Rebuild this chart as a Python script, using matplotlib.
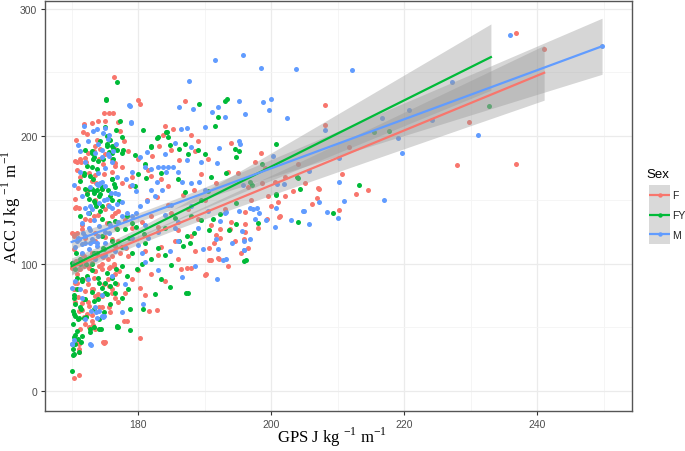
import numpy as np
import matplotlib
matplotlib.use("Agg")
import matplotlib.pyplot as plt

# ---------------- data ----------------
f_pts = [
    (236.8,281),(241,268),(227.9,177.7),(236.8,178.5),(229.7,211),(208,224.5),(208.1,208.5),(211.7,191.5),
    (210.7,170.5),(207.1,158.5),(212.7,155),(214.6,157.5),(203.2,157),(207,159.5),(206.9,151.7),(206.1,146.4),
    (210.2,141.7),(201.2,136.4),(202,153),(201.3,137.3),(199.3,134.7),(196,140.4),(196.1,124.8),(195.9,119),
    (193.8,126.9),(192.3,127.4),(190.9,130.3),(191.7,122.2),(192.3,120.3),(191.4,115.9),(190.7,112.5),(192,104.7),
    (190.7,102.6),(190.2,91.6),(192.2,104),(190.9,102.7),(186.5,95.5),(187.3,96.9),(188,96.9),(180.3,41.5),
    (170.3,10.4),(171.1,13),(175,38.4),(177.8,55.3),(178.3,55.3),(181.7,62.5),(182.9,63.8),(190.1,90.8),
    (180.3,81.2),(176.3,246.4),(180,228.5),(180.3,225),(187.1,227.8),(184,208.3),(174.8,218),(175.6,218),
    (176.2,218),(171.8,209.6),(173.1,210),(170.6,196.6),(170.8,179.8),(171.4,180),(172.1,180),(177,211),
    (171.1,143.5),(174.7,178.5),(176.5,192.7),(182.1,184.7),(177.25,204.4),(171.65,203.3),(172.35,202),
    (174,212),(175,211.7),(173.5,192),(173.8,197),(172.5,186.9),(173.3,188),(174.3,190),(176,181.7),
    (176.5,176.5),(180,181.7),(181.5,173.8),(182,168.6),(183.5,166),(184.5,160.8),(179,168),(177.5,163),
    (178.7,160.8),(183.8,200.5),(185.3,205.7),(183.1,192),(185,189),(188,200.5),(189,196),(188.5,188),
    (186.2,181),(190.5,181.7),(191.7,163),(189.5,170),(194,195),(193.5,172),(195,170.7),(182.9,152),
    (181.3,150),(186.7,154),(188.4,158),(184.5,146),(190,150),(193,143),(187.5,143),(185,140),(182,137),
    (180.5,133),(179,128),(183,129),(186,126),(189,135),(188,122),(185.5,118),(183.5,113),(181,110),
    (178.5,106),(183,107),(186,104),(188.5,110),(180,95),(182,92),(179,88),(184,86),(176,80),(178,77),
    (181,75),(177,70),(174.5,66),(175.8,62),(173,60),(171.5,64),(172.4,70),(171,74),(170.4,80),(170.8,85),
    (171.6,88),(172.5,84),(173.2,80),(174,76),(174.8,84),(175.5,88),(176.5,92),(175.8,97),(174.5,100),
    (173.5,94),(172.5,98),(171.3,96),(170.6,102),(171.8,106),(173,108),(174.7,105),(175.5,103.4),
    (176.3,99.5),(177.3,108),(178.2,112),(176.5,114),(177,118),(175,121),(173.5,124),(172,120),(170.35,123),
    (170.85,124.2),(171.5,130),(172.8,134),(174,138),(175.3,132),(176.6,128),(178,134),(177,141),(175.5,146),
    (173.5,150),(172.3,156),(171,159),(170.6,144.5),(173.6,163),(174.9,170),(176,172),(177.5,176),(178.5,188),
    (177.8,196),(175.4,199),(171.3,168),(170.8,92),(170.5,70),(171.9,58),(172.6,50),(173.25,51.7),
    (171.15,37.3),(170.75,38.1),(171.15,30.8),(174.75,38.6),(195.5,108),(193.5,98),(196.5,112),(194.5,118),
    (198,128),(197,150),(199.5,153),(196.5,160),(200.6,164),(202,168),(205,163),(199,175),(204,178),
    (197.5,180),(198.5,187),(201,148),(196,131),(194,133),(200,145),(198.6,163.4),
    (170.05,96.9),(171.05,95.6),(171.8,98.2),(172.55,96.4),(173.55,94.3),(174.55,95.6),(175.55,96.9),
    (176.3,98.2),(177.05,94.3),(170.55,85.1),(172.3,87.8),(173.3,89.1),(175.55,82.5),(176.8,83.8),(170.3,79.9),
    (172.05,78.6),(173.05,79.9),(173.55,74.7),(174.55,74.7),(176.05,77.3),(176.55,73.4),(175.55,65.6),
    (174.05,65.6),(171.55,69.5),(172.55,66.9),(171.05,63),(172.3,60.3),(173.05,55.1),(172.05,52.5),
    (173.55,48.6),(171.3,48.6),(174.8,38.1),(171.05,32.9),(170.8,39.4),
    (170.55,180.4),(171.3,181.7),(172.05,183),(170.8,173.8),(172.55,171.2),(173.55,169.9),(173.05,164.7),
    (172.3,155.6),(174.55,158.2),(170.55,150.3),(175.05,185.6),(174.05,181.7),(176.55,179.1),(170.55,143.8),
    (172.05,134.7),(173.3,137.3),(175.05,142.5),(176.05,137.3),(176.55,139.9),(170.05,124.2),(170.3,121.6),
    (171.55,126.8),(176.05,119),(173.55,117.7),(170.3,111.2),(171.55,107.3),(171.05,100.7),(173.05,100.7),
    (174.05,98.1),(176.05,105.9),
]

fy_pts = [
    (170,15.9),(170.15,62.9),(170.5,59),(170.25,52.5),(170.5,43.9),(171,40.7),(170.15,32.9),(170.15,28.2),
    (176.85,50.4),(174.15,48.6),(176.75,242.3),(175.1,229.5),(180.75,205),(177.25,211.7),(232.75,224),
    (215.5,203),(217.65,204.4),(203.9,168.1),(204.25,158.2),(213.25,161.3),(209.25,139.9),(200.75,153.5),
    (204,132.9),(198,132.1),(196.25,102.6),(194.75,131.3),(192.25,138.6),(191.25,134.7),(184.75,82),
    (187.25,76.7),(187.75,116.4),(193.1,227.8),(193.4,229),(189.2,225),(192,214.8),(191.5,208.3),
    (184.5,199.2),(182.9,198.7),(187.1,194),(187.5,186.3),(181.9,191.4),(184.4,202.9),(186.1,190),(189,189),
    (190.1,186.3),(194.7,183.7),(194.6,190.1),(195.2,188),(193.2,171.2),(191,168),(198.6,178.5),(200.7,194),
    (196.8,164.2),(197.1,162),(200.7,155),(204,166.8),(194.7,147.3),(193.6,126.6),(190.7,126.6),(188.4,124),
    (189.4,134.4),(187.4,121.9),(186.1,118),(186.8,114),(195.9,102),(187.5,77.3),(178.7,64.3),(177,50),
    (172.7,46.2),(171.4,38.4),(175.2,228.5),(175,207),(174.2,196),(175.3,193.5),(176.2,191),(175.6,187),
    (173,187),(173.3,184),(171.3,165),(172.6,158.5),(173.3,157.2),(174.6,159.8),(172.6,151),(173.3,149.5),
    (173.6,145.5),(174.6,145.5),(171.3,137),(175.4,158),(176.5,160),(177.1,149),(176,150),(178.3,137),
    (179,131.8),(179.6,129),(178,127),(180.9,123.6),(178.6,120),(181,116),(183,112),(182,104),(180.5,100),
    (179.8,96),(184,107),(185,99),(183.5,88),(182.5,76),(184,128),(185.5,136),(188,137),(189.5,150),
    (190.5,157),(187,156),(186,166),(183.5,171),(181,178),(179.5,185),(177.5,199),(176.7,205),
    (170.5,68.2),(171.4,64.3),(171,56.5),(172.1,57.8),(172.7,48.8),(173.4,50),(174.4,48.8),(173.4,64.3),
    (174,72.1),(175,77.3),(175.7,82.5),(176.5,85.1),(174,89),(175.3,92.9),(176.7,96),(177.6,98),(178.3,90.3),
    (176.5,77.3),(170.3,75),(170.8,80),(171.5,86),(172.3,90),(173,95),(172.2,100),(171.3,104),(170.5,96),
    (171.8,72),(173,78),(174.8,62),(175.8,68),(177.5,73),(178.5,80),(179,108),(177.5,113),(176,118),
    (174.7,112),(173.3,108),(180.8,64.5),(178.8,48),(170.6,108),
    (175.25,200),(175.75,197.3),(175.25,192.1),(176,192.1),(175.65,187.7),(173.25,181.7),(174,180.4),
    (174.75,182.2),(176.25,181.7),(177.5,186.4),(177.75,189),(172.25,176.5),(173,175.7),(173.75,174.4),
    (171.85,171.2),(173.25,166),(173,158.2),(173.75,157.7),(174.5,158.2),(176,166),(175.75,153),
    (174.25,154.3),(172.25,154.3),(180,170),(181.25,167.3),(179.5,160.8),(182,192.6),(183,199.4),
    (184.25,203.1),(184.75,192.9),
    (171.3,99.5),(173.05,99.5),(170.8,89.1),(171.55,87.8),(174.05,85.1),(175.05,85.1),(176.05,89.1),
    (170.3,73.4),(171.3,65.6),(172.05,72.1),(173.3,70.8),(174.55,81.2),(175.3,76),(170.3,60.3),
    (171.05,57.7),(171.8,57.7),(170.8,47.3),(171.55,43.4),(170.3,42.1),(174.05,56.4),(176.8,51.2),
    (170.3,29),(170.55,36.8),(171.05,30.3),
    (172.05,189.5),(173.05,188.2),(176.05,186.9),(176.8,189.5),(171.8,169.9),(172.8,168.6),(176.05,166),
    (172.05,158.2),(173.3,155.6),(174.05,153),(176.3,162.1),(173.55,147.7),(174.3,141.2),(174.55,134.7),
    (172.55,139.9),(176.55,133.4),(175.55,132.1),(176.8,126.8),(174.55,121.6),(173.8,108.6),(174.8,111.2),
    (170.05,100.7),
]

m_pts = [
    (191.6,260),(195.7,263.5),(198.4,253.7),(203.7,252.4),(212.1,252.2),(235.9,279),(195.2,227.8),(198.8,227),
    (200,228.8),(199.6,220.8),(196.1,217.4),(191.1,219.2),(192,223),(202.4,214.3),(193,214.8),(216.6,214.3),
    (220.7,220.8),(224.1,213),(227.2,242.2),(231.1,200.7),(219,198.6),(219.6,186.9),(208,205.2),(200.2,184.7),
    (210.1,183),(205.6,172.5),(210.1,164.2),(210.9,149.1),(217,149.8),(208.3,140.4),(210,136),(204.8,141.4),
    (203,134.2),(205.7,131),(200.7,143.8),(200.8,162.2),(201.9,162.7),(200.5,128.9),(197.3,142.9),
    (197.6,134.9),(199.2,134.4),(195.2,141.4),(193.1,139.6),(195.7,161.3),(195.2,196),(195.3,194),(192.2,191),
    (191.8,179.2),(189.4,179.8),(187.4,181),(187.9,191.4),(195.9,117.5),(195.9,110.5),(192.7,102.5),
    (193.2,103.4),(191.9,88.2),(180.7,68),(187.6,243.3),(188.2,221.3),(186.2,223),(178.7,223.9),(178.9,210.6),
    (186.5,205.7),(187.3,206.2),(204.9,141.2),(207.1,148.3),(196.85,143.8),(197.85,143.8),(198.15,139.4),
    (195.65,125.6),(196.85,119),(195.85,110.4),(194.15,116.4),(193.15,140.4),(192.25,133.4),(191.75,119),
    (192,111.2),(189.75,111.2),(186.65,89.8),(184.75,110),(249.7,270.5),
    (170.1,37.3),(172.9,36.3),(174.65,58.5),(172.9,63),(173.6,62),(177.6,61.7),(170.3,40),(172,143.8),
    (172.75,145.1),(170.75,117.7),(172.75,116.4),(173.25,117.7),(173.75,116.4),(178.6,224.7),(178.9,211),
    (173.85,205.7),(174.65,202.6),(175.65,200.5),(171.8,208.3),(173.2,204.4),(175,206.2),(175.4,197.9),
    (174,194),(176.7,194),(174.5,183.7),(175,175),(174,171),(174.5,164.2),(172.7,160.3),(174,162),
    (175.9,155.1),(176.9,155),(172.4,139.6),(173.4,134.5),(172.7,126.6),(171.7,124),(171,120),(172,116),
    (173,119),(174,122),(175,124.5),(175.7,130),(177,133),(177.6,137.5),(178.3,140),(179,137.5),(179.6,140),
    (180.3,145),(181.3,149),(182.6,153),(183.6,158),(180.3,183.7),(181.3,187.5),(182,174.6),(183,176),
    (183.8,176),(184.5,176),(185.3,176),(182.9,164.2),(184.2,171.5),(186,172),(186.6,164.2),(187.9,163),
    (189.1,164.2),(190.1,158),(179,171.5),(178.2,166),(179,162),(179.6,157),(176.8,168),(176,180),(171,193),
    (172.5,196),(175.4,186),(176.2,188.5),(181,176),(182,158),(185,146),(184,138),(186,133),(188,145),
    (190.5,141),(183,125),(185.5,128),(181.5,120),(180,115),(178,113),(176.5,110),(175,107),(173.5,104),
    (171.5,108),(170.5,113),(172.5,88),(176,90),(178,84),(174.5,75),(171.2,80),(170.5,86),(183,95),(181,101),
    (188.5,98),(186,118),(189,128),(184,186),(185.5,195),(190,207),(171.2,172),(172,180),(170.4,162),
    (174.8,150),(176,144),(177.6,148),(181,130),(179,120),(180.5,108),
    (170.05,81.2),(171.55,73.4),(173.55,65.6),(174.05,63),(174.55,59),(173.8,57.7),(172.05,56.4),
    (174.8,59),(172.8,36.8),(170.05,36.8),
    (171.3,188.2),(173.55,186.9),(174.55,189.5),(175.55,184.3),(173.8,162.1),(174.3,163.4),(175.05,160.8),
    (171.55,153),(175.3,150.3),(176.55,155.6),(174.05,147.7),(175.55,145.1),(173.05,142.5),(176.8,146.4),
    (171.55,132.1),(172.55,128.1),(174.05,129.3),(175.55,124.2),(171.05,119),(172.05,121.6),(171.55,115.1),
    (172.55,111.2),(173.8,113.8),(175.05,116.4),(174.55,105.9),
]

groups = ["F", "FY", "M"]
colors = {"F": "#F8766D", "FY": "#00BA38", "M": "#619CFF"}
data = {"F": f_pts, "FY": fy_pts, "M": m_pts}

# fitted lm lines: x range and y at both ends
fit_x = {"F": (170, 241), "FY": (170, 233), "M": (170, 249.7)}
fit_y = {"F": (97, 249.7), "FY": (98, 262), "M": (117, 270.5)}
# confidence band half-widths: at start, narrowest, at end
band_half = {"F": (6, 3.5, 21.5), "FY": (6.5, 4, 26), "M": (6.5, 3.5, 22)}
band_xmin = {"F": 180, "FY": 179, "M": 181}

x_ticks = [180, 200, 220, 240]
y_ticks = [0, 100, 200, 300]

# ---------------- figure ----------------
W, H = 685, 452
fig = plt.figure(figsize=(W / 100, H / 100), dpi=100)
L, R, T, B = 45, 632, 2, 412
ax = fig.add_axes([L / W, 1 - B / H, (R - L) / W, (B - T) / H])
ax.set_xlim(166.0, 254.2)
ax.set_ylim(-15.6, 306)

ax.set_xticks(x_ticks)
ax.set_yticks(y_ticks)
ax.set_xticks([170, 190, 210, 230, 250], minor=True)
ax.set_yticks([50, 150, 250], minor=True)
ax.grid(which="major", color="#EBEBEB", lw=0.9)
ax.grid(which="minor", color="#F4F4F4", lw=0.6)
ax.set_axisbelow(True)
for s in ax.spines.values():
    s.set_color("#555555")
    s.set_linewidth(1.0)
ax.tick_params(which="major", length=3, color="#333333", labelsize=7.5, labelcolor="#4D4D4D", pad=2.5)
ax.tick_params(which="minor", length=0)
for lab in ax.get_xticklabels() + ax.get_yticklabels():
    lab.set_family("Liberation Sans")

# points
for g in groups:
    arr = np.array(data[g])
    ax.scatter(arr[:, 0], arr[:, 1], s=13, color=colors[g], lw=0, zorder=2)

# linear fits with confidence bands
for g in groups:
    x0, x1 = fit_x[g]
    y0, y1 = fit_y[g]
    hs, hm, he = band_half[g]
    xm = band_xmin[g]
    xs = np.linspace(x0, x1, 120)
    yh = y0 + (y1 - y0) * (xs - x0) / (x1 - x0)
    cl = (hs ** 2 - hm ** 2) / (xm - x0) ** 2
    cr = (he ** 2 - hm ** 2) / (x1 - xm) ** 2
    c = np.where(xs < xm, cl, cr)
    h = np.sqrt(hm ** 2 + c * (xs - xm) ** 2)
    ax.fill_between(xs, yh - h, yh + h, color="#999999", alpha=0.4, lw=0, zorder=3)
    ax.plot(xs, yh, color=colors[g], lw=1.6, zorder=4)

plt.rcParams["mathtext.fontset"] = "custom"
plt.rcParams["mathtext.rm"] = "Liberation Serif"
serif = ["Liberation Serif", "DejaVu Serif"]
fig.text(332 / W, 1 - 437 / H, r"GPS J kg $^{\mathregular{-1}}$ m$^{\mathregular{-1}}$",
         family=serif, fontsize=12, ha="center", va="center")
fig.text(11 / W, 1 - 207 / H, r"ACC J kg $^{\mathregular{-1}}$ m$^{\mathregular{-1}}$",
         family=serif, fontsize=12, ha="center", va="center", rotation=90)

# legend (ggplot-style, with grey key background for the se band)
fig.text(646 / W, 1 - 175 / H, "Sex", fontsize=9.5, family="Liberation Sans", va="center")
lax = fig.add_axes([649 / W, 1 - 245 / H, 21 / W, 59 / H])
lax.set_xlim(0, 1)
lax.set_ylim(0, 3)
lax.set_facecolor("#D9D9D9")
lax.set_xticks([])
lax.set_yticks([])
for s in lax.spines.values():
    s.set_visible(False)
for i, g in enumerate(groups):
    yy = 2.5 - i
    lax.plot([0.05, 0.95], [yy, yy], color=colors[g], lw=1.6)
    lax.scatter([0.5], [yy], s=10, color=colors[g], lw=0)
    fig.text(672 / W, 1 - (196 + 20 * i) / H, g, fontsize=7.5, family="Liberation Sans",
             va="center", color="#222222")

fig.savefig("out.png", dpi=100)
